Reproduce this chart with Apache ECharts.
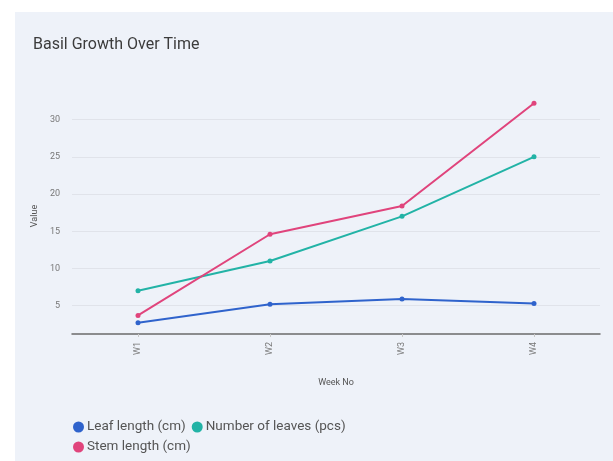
<!DOCTYPE html>
<html>
<head>
<meta charset="utf-8">
<script src="https://cdn.jsdelivr.net/npm/echarts@6/dist/echarts.min.js"></script>
<style>
  html, body { margin: 0; padding: 0; background: #ffffff; }
  #chart { width: 613px; height: 461px; }
</style>
</head>
<body>
<div id="chart"></div>
<script>
// Weekly basil measurements
const weeks = ['W1', 'W2', 'W3', 'W4'];
const leafLength = [2.7, 5.2, 5.9, 5.3];
const leafCount = [7, 11, 17, 25];
const stemLength = [3.7, 14.6, 18.4, 32.2];
const yTicks = [5, 10, 15, 20, 25, 30];

const seriesNames = ['Leaf length (cm)', 'Number of leaves (pcs)', 'Stem length (cm)'];
const seriesColors = ['#2f63cc', '#22b3a6', '#e0447c'];
const seriesData = [leafLength, leafCount, stemLength];

const chart = echarts.init(document.getElementById('chart'), null, { renderer: 'canvas' });

const font = 'Roboto, "Noto Sans", sans-serif';

chart.setOption({
  animation: false,
  backgroundColor: '#ffffff',
  graphic: [{
    type: 'rect',
    left: 15, top: 12,
    shape: { width: 598, height: 449 },
    style: { fill: '#eef2f9' },
    z: -10
  }],
  title: {
    text: 'Basil Growth Over Time',
    left: 28, top: 32,
    textStyle: { fontFamily: font, fontSize: 16, fontWeight: 'normal', color: '#3c3c3c' }
  },
  legend: {
    left: 68, top: 415,
    width: 310,
    orient: 'horizontal',
    icon: 'circle',
    itemWidth: 11, itemHeight: 11,
    itemGap: 6,
    textStyle: { fontFamily: font, fontSize: 13.5, color: '#555', padding: [0, 0, 0, -2] },
    data: seriesNames
  },
  grid: { left: 72, right: 13, top: 98, bottom: 127, containLabel: false },
  xAxis: {
    type: 'category',
    data: weeks,
    boundaryGap: true,
    name: 'Week No',
    nameLocation: 'middle',
    nameGap: 44,
    nameTextStyle: { fontFamily: font, fontSize: 9, color: '#555' },
    axisLine: { lineStyle: { color: '#6b6b6b', width: 1.5 } },
    axisTick: { show: true, alignWithLabel: true, length: 3, lineStyle: { color: '#c8c8c8' } },
    axisLabel: { rotate: 90, fontFamily: font, fontSize: 9, color: '#777', margin: 8 },
    splitLine: { show: false }
  },
  yAxis: {
    type: 'value',
    min: 1.2,
    max: 32.9,
    name: 'Value',
    nameLocation: 'middle',
    nameGap: 30,
    nameTextStyle: { fontFamily: font, fontSize: 9, color: '#555' },
    axisLine: { show: false },
    axisTick: { show: false, customValues: yTicks },
    axisLabel: { customValues: yTicks, fontFamily: font, fontSize: 9, color: '#777', margin: 12 },
    splitLine: { show: true, lineStyle: { color: '#e0e3ea', width: 1 } }
  },
  series: seriesData.map((d, i) => ({
    name: seriesNames[i],
    type: 'line',
    data: d,
    color: seriesColors[i],
    symbol: 'circle',
    symbolSize: 5,
    lineStyle: { width: 2 },
    z: i === 0 ? 3 : 2
  }))
});
</script>
</body>
</html>
